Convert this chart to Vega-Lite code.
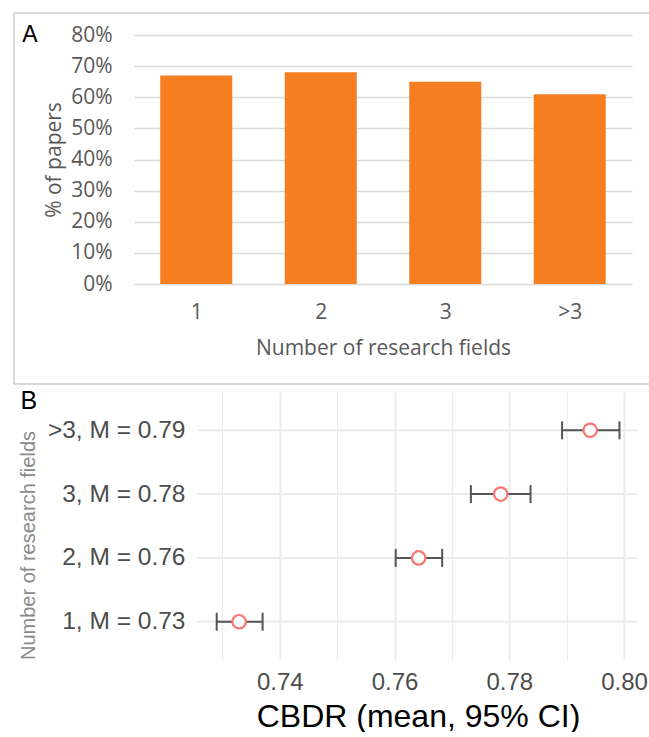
{
  "$schema": "https://vega.github.io/schema/vega-lite/v6.json",
  "background": "white",
  "padding": {"left": 13, "top": 12, "right": 0, "bottom": 0},
  "spacing": 4,
  "config": {"view": {"stroke": null}},
  "vconcat": [
    {
      "width": 498,
      "height": 249,
      "title": {"text": "A", "anchor": "start", "frame": "bounds", "font": "Liberation Sans", "fontSize": 23, "fontWeight": "normal", "color": "black", "dx": 9, "dy": 39},
      "data": {"values": [
        {"fields": "1", "pos": 1, "pct": 0.67},
        {"fields": "2", "pos": 2, "pct": 0.68},
        {"fields": "3", "pos": 3, "pct": 0.65},
        {"fields": ">3", "pos": 4, "pct": 0.61}
      ]},
      "layer": [
        {
          "mark": {"type": "bar", "size": 72, "color": "#F47E20"},
          "encoding": {
            "x": {"field": "pos", "type": "quantitative",
              "scale": {"domain": [0.5, 4.5], "nice": false, "zero": false, "padding": 0},
              "axis": {"values": [1, 2, 3, 4], "format": "d", "labelExpr": "datum.value == 4 ? '>3' : datum.label", "grid": false, "domain": false, "ticks": false, "labelOverlap": false,
                "labelFont": "Open Sans", "labelFontSize": 21, "labelColor": "#595959", "labelPadding": 17,
                "title": "Number of research fields", "titleFont": "Open Sans", "titleFontSize": 21, "titleFontWeight": "normal", "titleColor": "#595959", "titlePadding": 15}},
            "y": {"field": "pct", "type": "quantitative",
              "scale": {"domain": [0, 0.8], "nice": false},
              "axis": {"values": [0, 0.1, 0.2, 0.3, 0.4, 0.5, 0.6, 0.7, 0.8], "format": ".0%", "grid": true, "gridColor": "#D9D9D9", "gridWidth": 1.3, "domain": false, "ticks": false, "labelOverlap": false,
                "labelFont": "Open Sans", "labelFontSize": 21, "labelColor": "#595959", "labelPadding": 22,
                "title": "% of papers", "titleFont": "Open Sans", "titleFontSize": 21, "titleFontWeight": "normal", "titleColor": "#595959", "titlePadding": 6}}
          }
        },
        {
          "mark": {"type": "rule", "color": "#D9D9D9", "strokeWidth": 1.5, "clip": false},
          "encoding": {
            "x": {"datum": -0.464, "type": "quantitative",
              "axis": {"values": [1, 2, 3, 4], "format": "d", "labelExpr": "datum.value == 4 ? '>3' : datum.label", "grid": false, "domain": false, "ticks": false, "labelOverlap": false,
                "labelFont": "Open Sans", "labelFontSize": 21, "labelColor": "#595959", "labelPadding": 17,
                "title": "Number of research fields", "titleFont": "Open Sans", "titleFontSize": 21, "titleFontWeight": "normal", "titleColor": "#595959", "titlePadding": 15}},
            "x2": {"datum": 4.64},
            "y": {"datum": 0.8707, "type": "quantitative",
              "axis": {"values": [0, 0.1, 0.2, 0.3, 0.4, 0.5, 0.6, 0.7, 0.8], "format": ".0%", "grid": true, "gridColor": "#D9D9D9", "gridWidth": 1.3, "domain": false, "ticks": false, "labelOverlap": false,
                "labelFont": "Open Sans", "labelFontSize": 21, "labelColor": "#595959", "labelPadding": 22,
                "title": "% of papers", "titleFont": "Open Sans", "titleFontSize": 21, "titleFontWeight": "normal", "titleColor": "#595959", "titlePadding": 6}}
          }
        },
        {
          "mark": {"type": "rule", "color": "#D9D9D9", "strokeWidth": 1.5, "clip": false},
          "encoding": {
            "x": {"datum": -0.464, "type": "quantitative",
              "axis": {"values": [1, 2, 3, 4], "format": "d", "labelExpr": "datum.value == 4 ? '>3' : datum.label", "grid": false, "domain": false, "ticks": false, "labelOverlap": false,
                "labelFont": "Open Sans", "labelFontSize": 21, "labelColor": "#595959", "labelPadding": 17,
                "title": "Number of research fields", "titleFont": "Open Sans", "titleFontSize": 21, "titleFontWeight": "normal", "titleColor": "#595959", "titlePadding": 15}},
            "x2": {"datum": 4.64},
            "y": {"datum": -0.3213, "type": "quantitative",
              "axis": {"values": [0, 0.1, 0.2, 0.3, 0.4, 0.5, 0.6, 0.7, 0.8], "format": ".0%", "grid": true, "gridColor": "#D9D9D9", "gridWidth": 1.3, "domain": false, "ticks": false, "labelOverlap": false,
                "labelFont": "Open Sans", "labelFontSize": 21, "labelColor": "#595959", "labelPadding": 22,
                "title": "% of papers", "titleFont": "Open Sans", "titleFontSize": 21, "titleFontWeight": "normal", "titleColor": "#595959", "titlePadding": 6}}
          }
        },
        {
          "mark": {"type": "rule", "color": "#D9D9D9", "strokeWidth": 1.5, "clip": false},
          "encoding": {
            "x": {"datum": -0.464, "type": "quantitative",
              "axis": {"values": [1, 2, 3, 4], "format": "d", "labelExpr": "datum.value == 4 ? '>3' : datum.label", "grid": false, "domain": false, "ticks": false, "labelOverlap": false,
                "labelFont": "Open Sans", "labelFontSize": 21, "labelColor": "#595959", "labelPadding": 17,
                "title": "Number of research fields", "titleFont": "Open Sans", "titleFontSize": 21, "titleFontWeight": "normal", "titleColor": "#595959", "titlePadding": 15}},
            "y": {"datum": 0.8707, "type": "quantitative",
              "axis": {"values": [0, 0.1, 0.2, 0.3, 0.4, 0.5, 0.6, 0.7, 0.8], "format": ".0%", "grid": true, "gridColor": "#D9D9D9", "gridWidth": 1.3, "domain": false, "ticks": false, "labelOverlap": false,
                "labelFont": "Open Sans", "labelFontSize": 21, "labelColor": "#595959", "labelPadding": 22,
                "title": "% of papers", "titleFont": "Open Sans", "titleFontSize": 21, "titleFontWeight": "normal", "titleColor": "#595959", "titlePadding": 6}},
            "y2": {"datum": -0.3213}
          }
        }
      ]
    },
    {
      "width": 504,
      "height": 268,
      "title": {"text": "B", "anchor": "start", "frame": "bounds", "font": "Liberation Sans", "fontSize": 25, "fontWeight": "normal", "color": "black", "dx": 2, "dy": 26},
      "data": {"values": [
        {"label": ">3, M = 0.79", "mean": 0.7941, "lo": 0.7892, "hi": 0.7992},
        {"label": "3, M = 0.78", "mean": 0.7785, "lo": 0.7733, "hi": 0.7837},
        {"label": "2, M = 0.76", "mean": 0.7642, "lo": 0.7602, "hi": 0.7683},
        {"label": "1, M = 0.73", "mean": 0.7329, "lo": 0.7290, "hi": 0.7370}
      ]},
      "encoding": {
        "y": {"field": "label", "type": "nominal",
          "sort": [">3, M = 0.79", "3, M = 0.78", "2, M = 0.76", "1, M = 0.73"],
          "scale": {"type": "point", "padding": 0.6},
          "axis": {"grid": false, "domain": false, "ticks": false, "offset": -64,
            "labelFont": "Liberation Sans", "labelFontSize": 24.5, "labelColor": "#4D4D4D", "labelPadding": 13,
            "title": "Number of research fields", "titleFont": "Liberation Sans", "titleFontSize": 20, "titleFontWeight": "normal", "titleColor": "#8A8A8A", "titlePadding": 9, "titleY": 153}}
      },
      "layer": [
        {
          "mark": {"type": "rule", "color": "#EBEBEB", "strokeWidth": 2},
          "encoding": {
            "x": {"datum": 0.72574, "type": "quantitative",
              "scale": {"domain": [0.72574, 0.80243], "range": [64, 504], "nice": false, "zero": false, "padding": 0},
              "axis": {"values": [0.73, 0.74, 0.75, 0.76, 0.77, 0.78, 0.79, 0.8], "format": ".2f",
                "labelExpr": "round(datum.value * 100) % 2 == 0 ? datum.label : ''",
                "grid": true, "gridColor": "#EBEBEB",
                "gridWidth": {"condition": {"test": "round(datum.value * 100) % 2 == 0", "value": 2}, "value": 1.2},
                "domain": false, "ticks": false,
                "labelFont": "Liberation Sans", "labelFontSize": 24, "labelColor": "#4D4D4D", "labelPadding": 10,
                "title": "CBDR (mean, 95% CI)", "titleFont": "Liberation Sans", "titleFontSize": 32, "titleFontWeight": "normal", "titleColor": "black", "titlePadding": 7}},
            "x2": {"datum": 0.80243}
          }
        },
        {
          "mark": {"type": "rule", "color": "#555555", "strokeWidth": 2},
          "encoding": {
            "x": {"field": "lo", "type": "quantitative",
              "axis": {"values": [0.73, 0.74, 0.75, 0.76, 0.77, 0.78, 0.79, 0.8], "format": ".2f",
                "labelExpr": "round(datum.value * 100) % 2 == 0 ? datum.label : ''",
                "grid": true, "gridColor": "#EBEBEB",
                "gridWidth": {"condition": {"test": "round(datum.value * 100) % 2 == 0", "value": 2}, "value": 1.2},
                "domain": false, "ticks": false,
                "labelFont": "Liberation Sans", "labelFontSize": 24, "labelColor": "#4D4D4D", "labelPadding": 10,
                "title": "CBDR (mean, 95% CI)", "titleFont": "Liberation Sans", "titleFontSize": 32, "titleFontWeight": "normal", "titleColor": "black", "titlePadding": 7}},
            "x2": {"field": "hi"}
          }
        },
        {
          "mark": {"type": "tick", "orient": "vertical", "size": 18, "thickness": 2, "color": "#555555", "opacity": 1},
          "encoding": {"x": {"field": "lo", "type": "quantitative"}}
        },
        {
          "mark": {"type": "tick", "orient": "vertical", "size": 18, "thickness": 2, "color": "#555555", "opacity": 1},
          "encoding": {"x": {"field": "hi", "type": "quantitative"}}
        },
        {
          "mark": {"type": "point", "shape": "circle", "filled": true, "fill": "white", "stroke": "#F8766D", "strokeWidth": 2.2, "size": 180, "opacity": 1},
          "encoding": {"x": {"field": "mean", "type": "quantitative"}}
        }
      ]
    }
  ]
}
